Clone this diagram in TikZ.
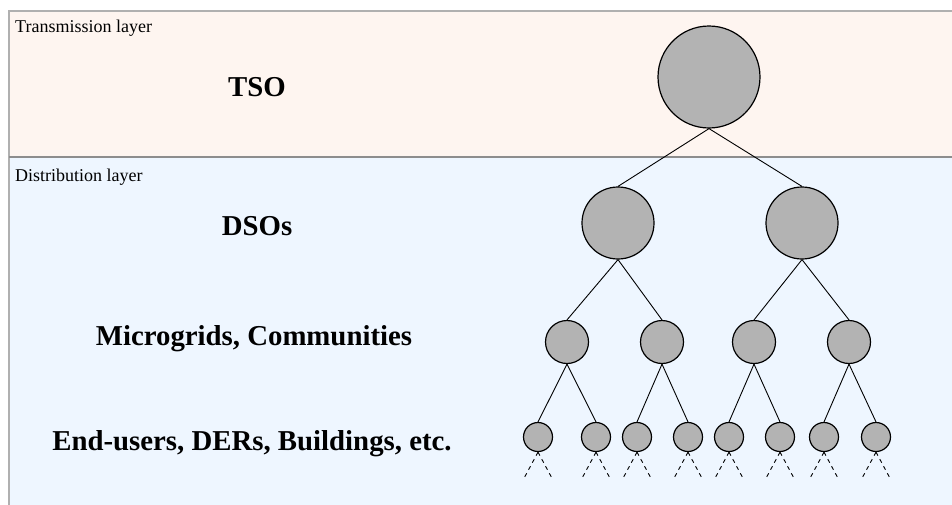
\documentclass[tikz,border=0pt]{standalone}
\usepackage{fontspec}
\setmainfont{Liberation Serif}
\usetikzlibrary{positioning,calc}
\definecolor{transfill}{HTML}{FEF5F0}
\definecolor{distfill}{HTML}{EEF6FF}
\definecolor{layerline}{HTML}{B0B0B0}
\definecolor{nodegray}{HTML}{B3B3B3}

\begin{document}
\begin{tikzpicture}[x=1pt,y=-1pt,
  grid/.style={circle,draw=black,fill=nodegray,line width=1.2pt,inner sep=0pt},
  layername/.style={anchor=base west,inner sep=0pt,font=\fontsize{18}{20}\selectfont},
  levelname/.style={anchor=base,inner sep=0pt,font=\fontsize{28.8}{32}\selectfont\bfseries},
  link/.style={line width=0.9pt},
  leaf/.style={line width=0.9pt,dash pattern=on 4pt off 4pt}]
\useasboundingbox (0,0) rectangle (952,504);
\fill[transfill] (9,11) rectangle (960,157);
\fill[distfill] (9,157) rectangle (960,510);
\draw[layerline,line width=1.3pt] (960,11) -- (9,11) -- (9,510);
\draw[layerline!80!black,line width=1.3pt] (9,157) -- (960,157);
\node[layername] (trans) at (15,32) {Transmission layer};
\node[layername] (dist) at (15,181) {Distribution layer};
\node[levelname] (tsolab) at (257,96) {TSO};
\node[levelname] (dsolab) at (257,235) {DSOs};
\node[levelname] (mglab) at (254,345) {Microgrids, Communities};
\node[levelname] (eulab) at (252,450) {End-users, DERs, Buildings, etc.};
\node[grid,minimum size=102pt] (tso) at (709,77) {};
\foreach \name/\x in {dso1/618,dso2/802}
  \node[grid,minimum size=72pt] (\name) at (\x,223) {};
\foreach \name/\x in {mg1/567,mg2/662,mg3/754,mg4/849}
  \node[grid,minimum size=43pt] (\name) at (\x,342) {};
\foreach \name/\x in {eu1/538,eu2/596,eu3/637,eu4/688,eu5/729,eu6/780,eu7/824,eu8/876}
  \node[grid,minimum size=29pt] (\name) at (\x,437) {};
\foreach \up/\down in {tso/dso1,tso/dso2,dso1/mg1,dso1/mg2,dso2/mg3,dso2/mg4,mg1/eu1,mg1/eu2,mg2/eu3,mg2/eu4,mg3/eu5,mg3/eu6,mg4/eu7,mg4/eu8}
  \draw[link] (\up.south) -- (\down.north);
\foreach \i in {1,...,8}
{
\coordinate (leafl\i) at ($(eu\i.south)+(-15,28)$);
\coordinate (leafr\i) at ($(eu\i.south)+(15,28)$);
\draw[leaf] (eu\i.south) -- (leafl\i);
\draw[leaf] (eu\i.south) -- (leafr\i);
}
\end{tikzpicture}
\end{document}
